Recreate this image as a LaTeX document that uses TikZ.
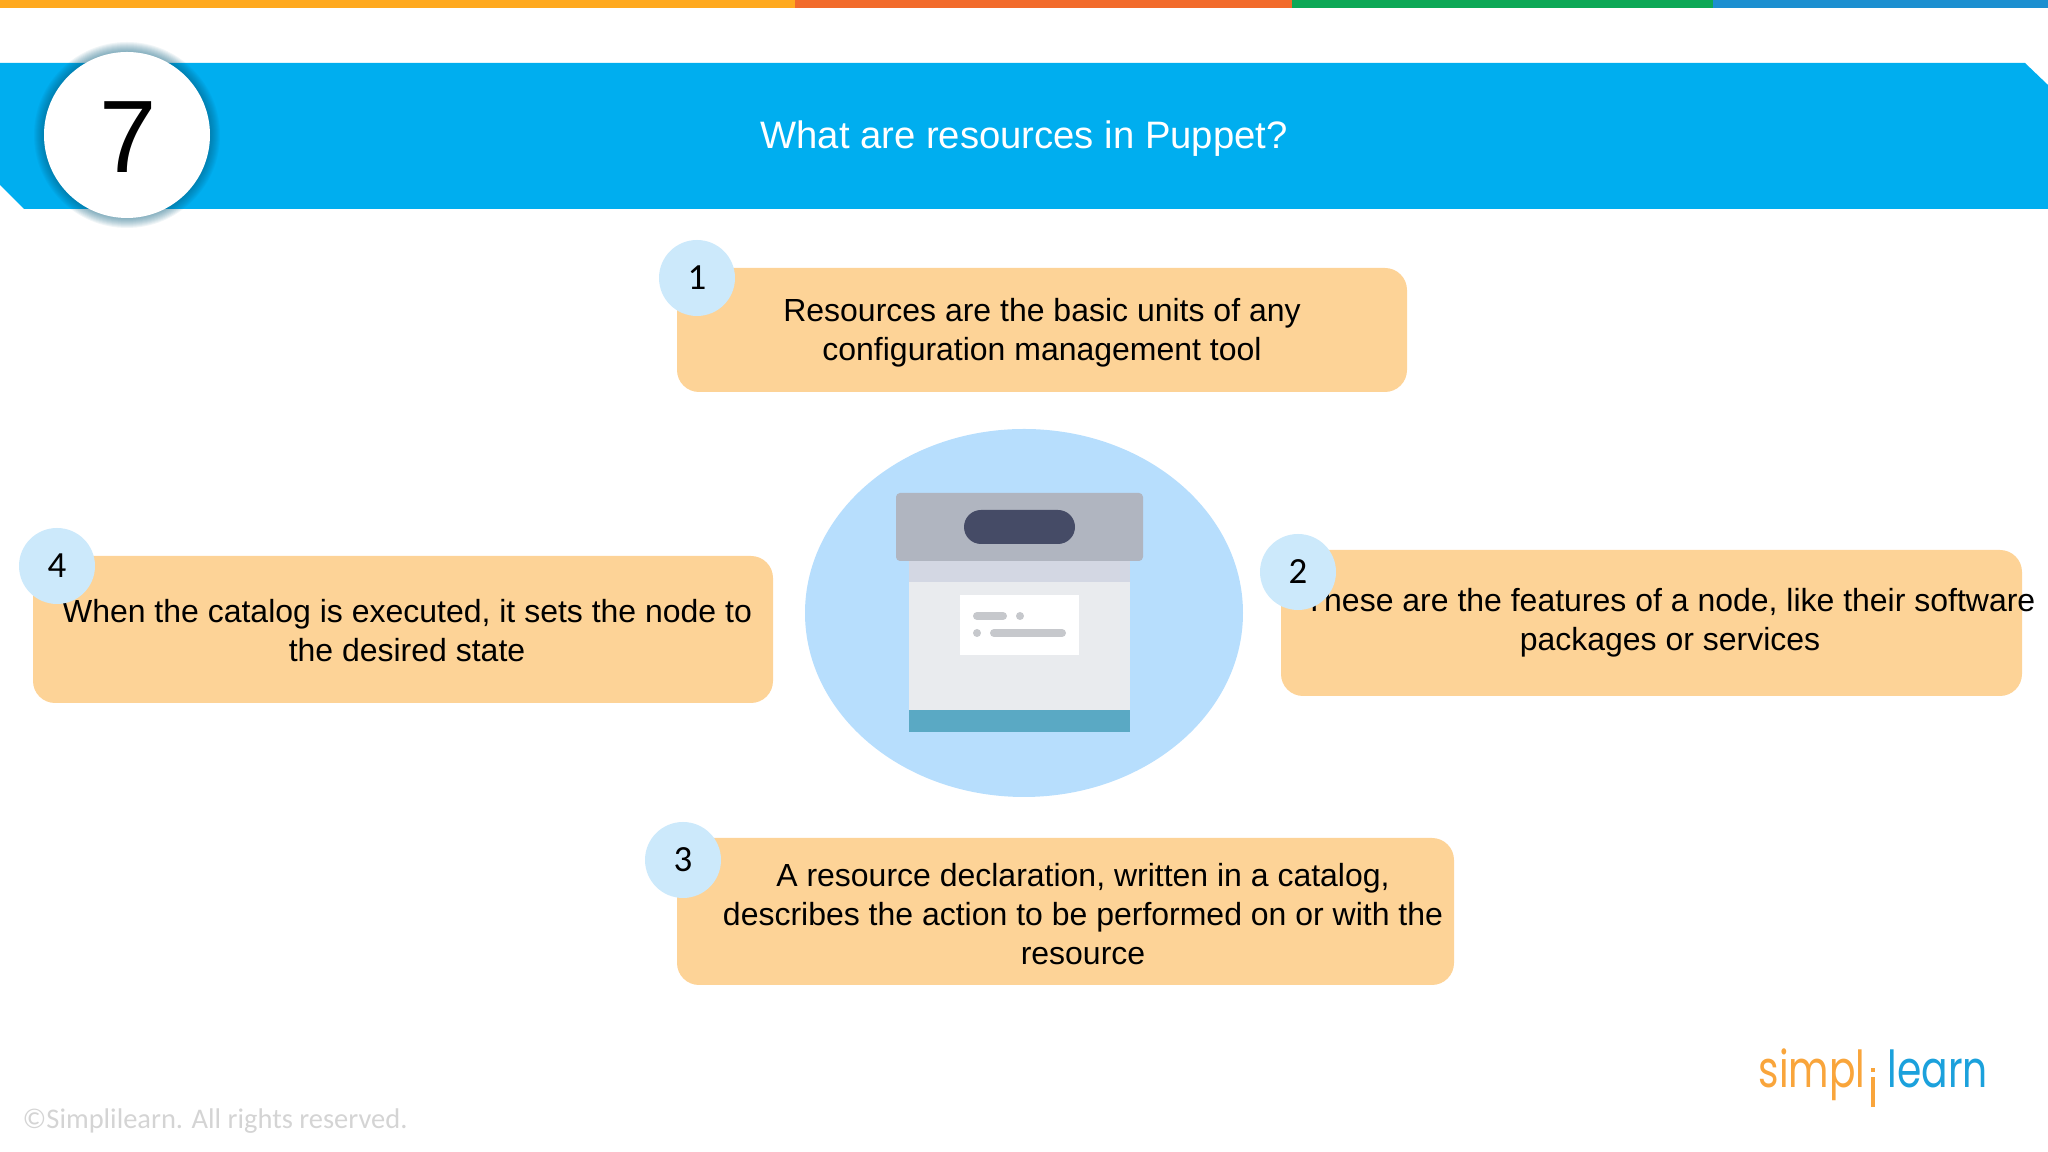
\documentclass[tikz,border=0pt]{standalone}
\usepackage{fontspec}
\setmainfont{Liberation Sans}
\newfontfamily\badgefont{Carlito}
\newfontfamily\logofont{Poppins}
\usepackage{tikz}
\usetikzlibrary{calc, positioning}
\definecolor{barorange}{HTML}{FFA91E}
\definecolor{barred}{HTML}{F26B2B}
\definecolor{bargreen}{HTML}{0DA856}
\definecolor{barblue}{HTML}{1C8FD0}
\definecolor{banner}{HTML}{00AEEF}
\definecolor{boxfill}{HTML}{FDD397}
\definecolor{badgefill}{HTML}{CCE9FB}
\definecolor{discfill}{HTML}{B7DEFD}
\definecolor{lidgrey}{HTML}{B0B5C0}
\definecolor{handle}{HTML}{454B66}
\definecolor{bandgrey}{HTML}{D3D7E3}
\definecolor{bodygrey}{HTML}{E9EBEE}
\definecolor{striptint}{HTML}{5AA9C4}
\definecolor{markgrey}{HTML}{C6C8CC}
\definecolor{logoorange}{HTML}{F9A53B}
\definecolor{logoblue}{HTML}{1BA1DC}
\tikzset{
  callout/.style={fill=boxfill, rounded corners=.22cm, inner sep=0pt},
  saying/.style={font=\fontsize{9.1}{11.1}\selectfont, align=center, inner sep=0pt},
  badge/.style={circle, fill=badgefill, minimum size=.76cm, inner sep=0pt, font=\badgefont\fontsize{10.5}{12}\selectfont},
  logotext/.style={inner sep=0pt, xscale=.77, transform shape, font=\logofont\fontsize{14.5}{16}\selectfont},
}

\begin{document}
\begin{tikzpicture}
  \useasboundingbox (0,0) rectangle (20.48,11.52);
  % top stripe
  \fill [barorange] (0,11.44) rectangle (7.95,11.52);
  \fill [barred] (7.95,11.44) rectangle (12.92,11.52);
  \fill [bargreen] (12.92,11.44) rectangle (17.13,11.52);
  \fill [barblue] (17.13,11.44) rectangle (20.48,11.52);
  % banner
  \fill [banner] (0,10.89) -- (20.25,10.89) -- (20.48,10.67) -- (20.48,9.43) -- (.24,9.43) -- (0,9.67) -- cycle;
  \foreach \r in {.93,.92,...,.84}
    \fill [black!50!banner, opacity=.06] (1.27,10.17) circle [radius =\r];
  \node (question) at (1.27,10.17) [circle, fill=white, minimum size=1.66cm, inner sep=0pt] {};
  \node (seven) at (1.28,10.15) [font=\fontsize{29.3}{32}\selectfont] {7};
  \node (title) at (10.24,10.13) [white, font=\fontsize{10.88}{13}\selectfont] {What are resources in Puppet?};

  % answer boxes
  \node (boxa) at (10.42,8.22) [callout, minimum width=7.30cm, minimum height=1.24cm] {};
  \node (boxb) at (16.515,5.29) [callout, minimum width=7.41cm, minimum height=1.46cm] {};
  \node (boxc) at (10.655,2.405) [callout, minimum width=7.77cm, minimum height=1.47cm] {};
  \node (boxd) at (4.03,5.225) [callout, minimum width=7.40cm, minimum height=1.47cm] {};
  \node (texta) at (10.42,8.19) [saying] {Resources are the basic units of any\\configuration management tool};
  \node (textb) at (16.70,5.29) [saying] {These are the features of a node, like their software\\packages or services};
  \node (textc) at (10.83,2.38) [saying] {A resource declaration, written in a catalog,\\describes the action to be performed on or with the\\resource};
  \node (textd) at (4.07,5.21) [saying] {When the catalog is executed, it sets the node to\\the desired state};
  \node (numa) at (6.97,8.74) [badge] {1};
  \node (numb) at (12.98,5.80) [badge] {2};
  \node (numc) at (6.83,2.92) [badge] {3};
  \node (numd) at (.57,5.86) [badge] {4};

  % archive box
  \fill [discfill] (10.24,5.39) ellipse [x radius=2.19, y radius=1.84];
  \fill [bandgrey] (9.09,5.70) rectangle (11.30,5.91);
  \fill [bodygrey] (9.09,4.42) rectangle (11.30,5.70);
  \fill [striptint] (9.09,4.20) rectangle (11.30,4.42);
  \fill [lidgrey, rounded corners=.04cm] (8.96,5.91) -- (8.96,6.59) -- (11.43,6.59) -- (11.43,5.91) -- cycle;
  \fill [handle, rounded corners=.17cm] (9.64,6.08) rectangle (10.75,6.42);
  \fill [white] (9.60,4.97) rectangle (10.79,5.57);
  \draw [markgrey, line width=.08cm, line cap=round] (9.77,5.36) -- (10.03,5.36);
  \draw [markgrey, line width=.08cm, line cap=round] (9.94,5.19) -- (10.62,5.19);
  \fill [markgrey] (10.20,5.36) circle [radius =.04];
  \fill [markgrey] (9.77,5.19) circle [radius =.04];

  % logo and footer
  \node (logoleft) at (18.66,.64) [logotext, anchor=base east, text=logoorange] {simpl};
  \node (logoright) at (18.87,.64) [logotext, anchor=base west, text=logoblue] {learn};
  \fill [logoorange] (18.71,.80) rectangle (18.75,.84);
  \fill [logoorange] (18.71,.45) rectangle (18.75,.75);
  \node (rights) at (.22,.31) [anchor=west, inner sep=0pt, text=black!17, font=\badgefont\fontsize{8.1}{10}\selectfont] {©Simplilearn. All rights reserved.};
\end{tikzpicture}
\end{document}
